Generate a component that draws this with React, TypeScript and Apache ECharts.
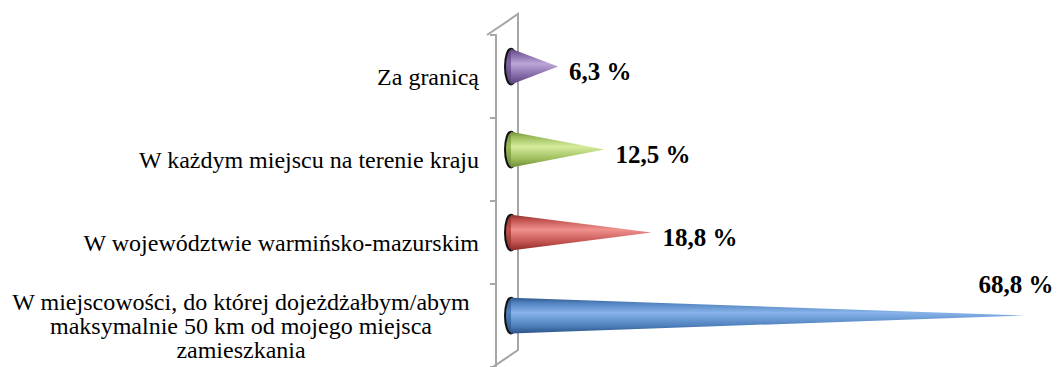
import React, { useEffect, useRef } from "react";
import * as echarts from "echarts";

const categories = [
  "Za granicą",
  "W każdym miejscu na terenie kraju",
  "W województwie warmińsko-mazurskim",
  "W miejscowości, do której dojeżdżałbym/abym\nmaksymalnie 50 km od mojego miejsca\nzamieszkania",
];
const values = [6.3, 12.5, 18.8, 68.8];
// [dark, base, light] per cone
const coneColors = [
  ["#55407a", "#8064A2", "#bba6d8"],
  ["#6c8a36", "#9BBB59", "#d4ec9c"],
  ["#8a2c29", "#C0504D", "#f0918e"],
  ["#2c5489", "#4F81BD", "#88b3ea"],
];

const FONT = "Liberation Serif";

export default function App() {
  const ref = useRef<HTMLDivElement>(null);
  useEffect(() => {
    if (!ref.current) return;
    const chart = echarts.init(ref.current, null, { renderer: "svg" });
    const W = 1059;
    const option: any = {
      animation: false,
      textStyle: { fontFamily: FONT },
      grid: { left: 487, top: 35, width: 532, height: 336 },
      xAxis: {
        type: "value",
        min: 0,
        max: 70,
        show: false,
      },
      yAxis: {
        type: "category",
        inverse: true,
        data: categories,
        axisLine: { show: true, lineStyle: { color: "#a6a6a6", width: 2 } },
        axisTick: { show: true, length: 6, lineStyle: { color: "#a6a6a6", width: 2 } },
        splitLine: { show: false },
        axisLabel: {
          interval: 0,
          margin: 17,
          color: "#000",
          fontFamily: FONT,
          fontSize: 24,
          lineHeight: 24,
          formatter: (v: string) =>
            v.includes("\n")
              ? v
                  .split("\n")
                  .map((l) => `{c|${l}}`)
                  .join("\n")
              : v,
          rich: {
            c: {
              width: 476,
              align: "center",
              fontFamily: FONT,
              fontSize: 24,
              lineHeight: 24,
              color: "#000",
            },
          },
        },
      },
      graphic: [
        {
          type: "polyline",
          z: 0,
          shape: {
            points: [
              [487, 35],
              [518, 14],
              [518, 350],
              [487, 371],
            ],
          },
          style: { stroke: "#a6a6a6", lineWidth: 2, fill: "none" },
        },
      ],
      series: [
        {
          type: "custom",
          z: 10,
          data: values.map((v, i) => [v, i]),
          encode: { x: 0, y: 1 },
          renderItem: (params: any, api: any) => {
            const v = api.value(0);
            const idx = api.value(1);
            const p0 = api.coord([0, idx]);
            const p1 = api.coord([v, idx]);
            const band = api.size([0, 1])[1];
            const dx = 15;
            const dy = -band * 0.12;
            const h = band * 0.215;
            const x0 = p0[0] + dx;
            const x1 = p1[0] + dx;
            const y = p0[1] + dy;
            const [dark, base, light] = coneColors[params.dataIndex];
            const grad = new echarts.graphic.LinearGradient(0, 0, 0, 1, [
              { offset: 0, color: dark },
              { offset: 0.14, color: base },
              { offset: 0.42, color: light },
              { offset: 0.78, color: base },
              { offset: 1, color: dark },
            ]);
            const capGrad = new echarts.graphic.LinearGradient(0, 0, 0, 1, [
              { offset: 0, color: dark },
              { offset: 0.4, color: base },
              { offset: 1, color: dark },
            ]);
            const label = v.toFixed(1).replace(".", ",") + " %";
            const overflow = x1 + 90 > W;
            return {
              type: "group",
              children: [
                {
                  type: "ellipse",
                  shape: { cx: x0, cy: y, rx: 6, ry: h },
                  style: { fill: capGrad, stroke: "#111", lineWidth: 2 },
                },
                {
                  type: "polygon",
                  shape: {
                    points: [
                      [x0, y - h],
                      [x1, y],
                      [x0, y + h],
                    ],
                  },
                  style: { fill: grad },
                },
                {
                  type: "text",
                  x: overflow ? x1 - 9 : x1 + 11,
                  y: overflow ? y - 31 : y + 5,
                  style: {
                    text: label,
                    fill: "#000",
                    fontFamily: FONT,
                    fontSize: 25,
                    fontWeight: "bold",
                    textAlign: overflow ? "center" : "left",
                    textVerticalAlign: "middle",
                  },
                },
              ],
            };
          },
        },
      ],
    };
    chart.setOption(option);
    return () => chart.dispose();
  }, []);
  return (
    <div
      ref={ref}
      style={{ position: "fixed", left: 0, top: 0, width: 1059, height: 367, background: "#fff" }}
    />
  );
}
